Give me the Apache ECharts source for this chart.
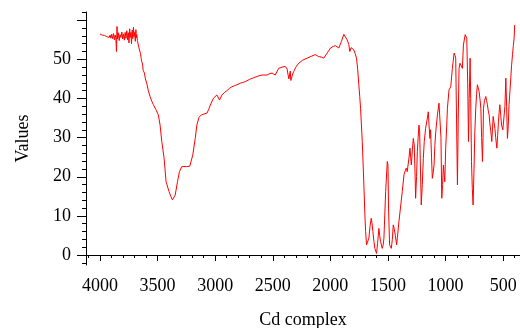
<!DOCTYPE html>
<html>
<head>
<meta charset="utf-8">
<script src="https://cdn.jsdelivr.net/npm/echarts@6/dist/echarts.min.js"></script>
<style>
html,body{margin:0;padding:0;background:#fff;}
#c{width:520px;height:328px;}
</style>
</head>
<body>
<div id="c"></div>
<script>
var wavenumbers = [4000,3990,3980,3970,3960,3950,3940,3930,3920,3912,3905,3898,3890,3882,3875,3868,3862,3856,3852,3847,3840,3833,3826,3818,3810,3803,3796,3788,3781,3774,3767,3760,3754,3748,3742,3737,3731,3726,3720,3715,3709,3704,3698,3693,3688,3684,3680,3675,3670,3662,3655,3648,3642,3637,3630,3625,3614,3605,3594,3580,3565,3550,3536,3515,3493,3478,3463,3443,3426,3400,3385,3371,3360,3347,3327,3310,3290,3275,3246,3220,3208,3194,3173,3159,3140,3120,3100,3087,3070,3058,3035,3014,2985,2962,2941,2920,2898,2875,2854,2830,2811,2782,2760,2739,2700,2666,2630,2593,2550,2530,2506,2478,2449,2420,2391,2375,2370,2360,2353,2348,2343,2339,2330,2318,2300,2275,2240,2202,2165,2130,2115,2101,2080,2058,2030,1999,1975,1956,1940,1927,1905,1883,1870,1854,1840,1831,1820,1810,1803,1796,1785,1773,1763,1753,1745,1738,1723,1709,1700,1694,1686,1676,1666,1655,1645,1638,1631,1622,1614,1599,1590,1579,1572,1564,1550,1542,1535,1528,1520,1506,1500,1495,1486,1471,1462,1454,1446,1436,1425,1418,1405,1390,1376,1361,1351,1341,1333,1318,1309,1303,1297,1288,1280,1272,1266,1260,1252,1245,1238,1231,1225,1218,1211,1202,1193,1185,1173,1158,1150,1143,1136,1130,1122,1115,1108,1100,1093,1085,1071,1057,1045,1040,1033,1026,1019,1007,999,990,984,970,955,941,926,918,912,905,897,890,883,875,868,860,854,845,830,823,816,808,801,795,787,782,775,768,761,753,746,738,731,724,716,709,700,694,687,680,675,671,662,651,644,637,630,622,615,607,599,593,587,580,572,565,555,548,541,535,529,522,514,503,492,485,477,470,463,456,449,441,434,427,419,412,405,400];
var values = [56.5,56.3,56.2,56.0,56.1,55.9,55.8,56.0,55.6,56.2,55.4,56.4,55.3,56.6,55.0,56.2,55.5,52.0,58.4,55.2,56.8,54.8,56.3,55.6,57.0,55.2,56.5,54.9,56.9,55.4,57.3,55.0,56.8,54.2,57.8,55.6,56.9,54.0,57.5,55.3,58.2,55.8,56.9,54.6,57.6,55.5,56.3,54.8,55.2,53.0,53.4,51.5,50.2,49.4,48.8,47.2,46.5,45.0,43.9,42.0,40.5,39.3,38.4,37.2,35.8,33.2,29.0,24.7,18.7,16.2,15.0,14.1,14.4,15.3,18.7,21.3,22.6,23.0,22.6,22.7,23.0,25.6,29.8,33.2,35.2,35.8,36.0,36.4,36.3,37.1,38.8,40.1,40.9,39.6,40.9,41.5,42.0,42.6,43.0,43.3,43.5,43.9,44.1,44.3,44.9,45.3,45.7,46.0,46.0,46.3,46.5,46.0,47.7,48.0,48.2,47.5,46.5,45.0,45.2,47.0,44.6,44.8,46.0,46.9,48.0,49.0,49.8,50.3,50.8,51.2,51.0,50.7,50.6,50.3,51.5,52.9,53.3,53.5,53.2,52.9,54.5,56.4,55.9,55.0,53.8,52.0,53.0,53.3,52.6,52.4,51.5,50.3,47.5,43.5,40.5,37.5,29.0,17.9,10.0,6.0,2.6,2.8,4.3,7.5,9.4,8.0,6.0,3.5,1.7,0.4,3.0,6.8,5.0,3.4,1.7,2.5,4.3,10.0,16.2,23.9,23.0,12.0,2.6,1.7,4.0,7.7,6.8,5.0,2.6,4.5,8.5,12.5,16.2,20.5,21.5,22.2,21.3,24.7,27.3,25.0,23.0,27.0,29.8,28.1,22.0,14.5,20.0,26.4,30.0,33.2,31.5,22.0,12.8,18.0,24.7,29.0,32.4,35.0,36.6,33.0,29.8,32.0,25.0,19.6,21.0,23.0,28.0,31.5,35.8,38.8,38.4,30.0,14.5,18.0,23.0,18.7,27.3,33.0,37.5,42.2,43.0,47.7,51.6,51.0,50.3,35.0,17.9,35.0,47.7,49.0,49.4,48.5,47.7,53.7,56.3,56.2,55.4,44.0,29.0,40.0,50.3,40.0,23.9,17.0,12.8,22.0,31.5,37.5,41.0,43.5,43.0,41.8,39.5,37.5,30.0,23.9,30.0,37.5,39.5,40.5,39.5,38.4,37.0,35.8,33.5,31.5,29.0,32.0,35.4,34.0,32.4,30.0,27.3,30.5,34.1,36.5,38.4,36.0,33.2,32.0,31.5,38.0,45.2,38.0,29.8,33.0,38.4,42.0,45.2,48.5,51.2,53.5,55.4,58.8];
var xTickLabels = [4000,3500,3000,2500,2000,1500,1000,500];
var xMinorTicks = [4100,4000,3900,3800,3700,3600,3500,3400,3300,3200,3100,3000,2900,2800,2700,2600,2500,2400,2300,2200,2100,2000,1900,1800,1700,1600,1500,1400,1300,1200,1100,1000,900,800,700,600,500,400];
var yTickLabels = [0,10,20,30,40,50];
var yMajorTicks = [0,10,20,30,40,50,60];
var yMinorTicks = [-2,0,2,4,6,8,10,12,14,16,18,20,22,24,26,28,30,32,34,36,38,40,42,44,46,48,50,52,54,56,58,60,62];
var xTitle = 'Cd complex';
var yTitle = 'Values';

var FONT = 'Liberation Serif';
var XMIN = 354, XMAX = 4121, YMIN = -2.55, YMAX = 62.1;
var data = wavenumbers.map(function(w, i){ return [w, values[i]]; });
function plain(v){ return String(v); }

var chart = echarts.init(document.getElementById('c'), null, {renderer:'canvas'});
chart.setOption({
  animation: false,
  backgroundColor: '#fff',
  grid: {left: 86, right: 0, top: 12, bottom: 63, containLabel: false, outerBoundsMode: 'none'},
  xAxis: [{
    type: 'value', inverse: true, min: XMIN, max: XMAX, position: 'bottom',
    name: xTitle, nameLocation: 'middle', nameGap: 46,
    nameTextStyle: {fontFamily: FONT, fontSize: 18, color: '#000'},
    axisLine: {show: true, lineStyle: {color: '#000', width: 1}},
    axisTick: {show: true, customValues: xTickLabels, length: 6, inside: false, lineStyle: {color: '#000'}},
    axisLabel: {show: true, customValues: xTickLabels, formatter: plain, margin: 12, fontFamily: FONT, fontSize: 18, color: '#000'},
    splitLine: {show: false}
  }, {
    type: 'value', inverse: true, min: XMIN, max: XMAX, position: 'bottom',
    axisLine: {show: false},
    axisTick: {show: true, customValues: xMinorTicks, length: 3, inside: false, lineStyle: {color: '#000'}},
    axisLabel: {show: false},
    splitLine: {show: false}
  }],
  yAxis: [{
    type: 'value', min: YMIN, max: YMAX, position: 'left',
    name: yTitle, nameLocation: 'middle', nameGap: 54, nameRotate: 90,
    nameTextStyle: {fontFamily: FONT, fontSize: 18, color: '#000'},
    axisLine: {show: true, lineStyle: {color: '#000', width: 1}},
    axisTick: {show: true, customValues: yMajorTicks, length: 9, inside: false, lineStyle: {color: '#000'}},
    axisLabel: {show: true, customValues: yTickLabels, formatter: plain, margin: 15, fontFamily: FONT, fontSize: 18, color: '#000'},
    splitLine: {show: false}
  }, {
    type: 'value', min: YMIN, max: YMAX, position: 'left',
    axisLine: {show: false},
    axisTick: {show: true, customValues: yMinorTicks, length: 4, inside: false, lineStyle: {color: '#000'}},
    axisLabel: {show: false},
    splitLine: {show: false}
  }],
  series: [{
    type: 'line', xAxisIndex: 0, yAxisIndex: 0,
    data: data, showSymbol: false, symbol: 'none',
    lineStyle: {color: '#ff0000', width: 1},
    itemStyle: {color: '#ff0000'}
  }]
});
</script>
</body>
</html>
